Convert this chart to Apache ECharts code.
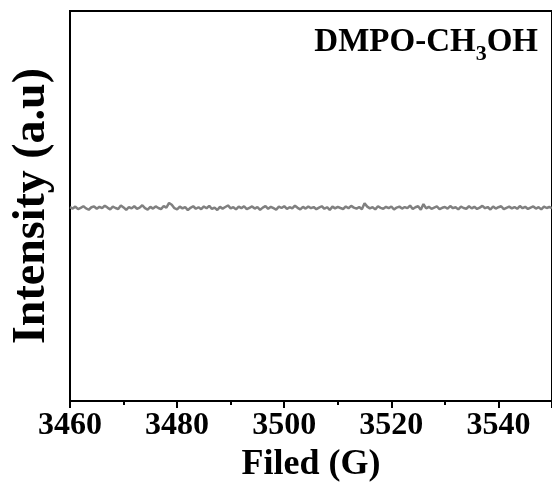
<!DOCTYPE html>
<html>
<head>
<meta charset="utf-8">
<script src="https://cdn.jsdelivr.net/npm/echarts@6/dist/echarts.min.js"></script>
<style>
  html, body { margin: 0; padding: 0; background: #fff; }
  #chart { width: 552px; height: 488px; }
</style>
</head>
<body>
<div id="chart"></div>
<script>
// magnetic field (G)
var fields = [
  3460, 3460.5, 3461, 3461.5, 3462, 3462.5, 3463, 3463.5, 3464, 3464.5,
  3465, 3465.5, 3466, 3466.5, 3467, 3467.5, 3468, 3468.5, 3469, 3469.5,
  3470, 3470.5, 3471, 3471.5, 3472, 3472.5, 3473, 3473.5, 3474, 3474.5,
  3475, 3475.5, 3476, 3476.5, 3477, 3477.5, 3478, 3478.5, 3479, 3479.5,
  3480, 3480.5, 3481, 3481.5, 3482, 3482.5, 3483, 3483.5, 3484, 3484.5,
  3485, 3485.5, 3486, 3486.5, 3487, 3487.5, 3488, 3488.5, 3489, 3489.5,
  3490, 3490.5, 3491, 3491.5, 3492, 3492.5, 3493, 3493.5, 3494, 3494.5,
  3495, 3495.5, 3496, 3496.5, 3497, 3497.5, 3498, 3498.5, 3499, 3499.5,
  3500, 3500.5, 3501, 3501.5, 3502, 3502.5, 3503, 3503.5, 3504, 3504.5,
  3505, 3505.5, 3506, 3506.5, 3507, 3507.5, 3508, 3508.5, 3509, 3509.5,
  3510, 3510.5, 3511, 3511.5, 3512, 3512.5, 3513, 3513.5, 3514, 3514.5,
  3515, 3515.5, 3516, 3516.5, 3517, 3517.5, 3518, 3518.5, 3519, 3519.5,
  3520, 3520.5, 3521, 3521.5, 3522, 3522.5, 3523, 3523.5, 3524, 3524.5,
  3525, 3525.5, 3526, 3526.5, 3527, 3527.5, 3528, 3528.5, 3529, 3529.5,
  3530, 3530.5, 3531, 3531.5, 3532, 3532.5, 3533, 3533.5, 3534, 3534.5,
  3535, 3535.5, 3536, 3536.5, 3537, 3537.5, 3538, 3538.5, 3539, 3539.5,
  3540, 3540.5, 3541, 3541.5, 3542, 3542.5, 3543, 3543.5, 3544, 3544.5,
  3545, 3545.5, 3546, 3546.5, 3547, 3547.5, 3548, 3548.5, 3549, 3549.5,
  3550
];
// EPR intensity (a.u), flat noisy baseline
var intensity = [
  -0.6, -1.3, -0.3, -1.6, -0.9, -0.1, -1.2, -1.9, -0.6, -0.2,
  -1.4, -0.4, -1.1, 0.2, -0.8, -1.7, -0.3, -1.0, -1.5, 0.3,
  -0.7, -2.0, -0.5, -1.2, -0.1, -1.4, -0.8, 0.4, -1.1, -1.8,
  -0.4, -1.3, -0.2, -1.0, -1.6, 0.0, -0.8, 1.6, 0.7, -1.1,
  -1.7, -0.3, -1.2, -0.5, -2.1, -0.9, -0.1, -1.4, -0.6, -1.6,
  -0.2, -1.1, 0.1, -1.5, -0.8, -2.0, -0.4, -1.3, -0.5, 0.3,
  -1.2, -0.6, -1.7, -0.3, -1.1, -0.1, -1.6, -0.9, -0.2, -1.3,
  -0.5, -1.9, -0.8, 0.0, -1.4, -0.4, -1.1, -1.8, -0.3, -1.0,
  -0.1, -1.5, -0.6, -1.2, 0.2, -0.9, -1.7, -0.4, -1.3, -0.2,
  -1.1, -0.5, -1.6, -0.8, -0.1, -1.4, -0.6, -2.0, -0.3, -1.2,
  -0.4, -1.0, -1.5, -0.2, -1.1, 0.1, -0.8, -1.3, -0.5, -1.6,
  1.4, -0.3, -1.2, -0.6, -1.7, -0.1, -0.9, -1.4, -0.4, -1.1,
  -0.2, -1.8, -0.8, -0.3, -1.3, -0.5, -1.1, 0.2, -1.5, -0.6,
  -0.1, -1.9, 1.0, -1.2, -0.4, -1.4, -0.8, -0.2, -1.6, -0.9,
  -0.5, -1.3, 0.0, -1.1, -0.6, -1.7, -0.3, -1.0, -1.4, -0.1,
  -1.2, -0.4, -1.5, -0.8, 0.1, -1.1, -0.5, -1.8, -0.2, -1.3,
  -0.6, -0.1, -1.6, -0.9, -0.3, -1.2, -0.5, -1.4, 0.0, -1.1,
  -0.4, -1.5, -0.8, -0.2, -1.3, -0.6, -1.7, -0.3, -1.0, -0.5,
  -1.0
];

var serif = '"Liberation Serif", "Times New Roman", serif';

var myChart = echarts.init(document.getElementById('chart'));
var points = fields.map(function (f, i) {
  return [f, intensity[i]];
});
var option = {
  animation: false,
  backgroundColor: '#fff',
  grid: {
    left: 70,
    right: -4,
    top: 11,
    bottom: 86,
    show: true,
    borderColor: '#000',
    borderWidth: 2
  },
  graphic: [
    {
      type: 'text',
      right: 14,
      top: 26,
      style: {
        text: '{m|DMPO-CH}{s|3}{m|OH}',
        rich: {
          m: {
            fontFamily: serif,
            fontWeight: 'bold',
            fontSize: 33,
            lineHeight: 33,
            verticalAlign: 'top',
            fill: '#000'
          },
          s: {
            fontFamily: serif,
            fontWeight: 'bold',
            fontSize: 22,
            lineHeight: 22,
            verticalAlign: 'top',
            padding: [17, 0, 0, 0],
            fill: '#000'
          }
        }
      }
    }
  ],
  xAxis: {
    type: 'value',
    min: 3460,
    max: 3550,
    interval: 20,
    name: 'Filed (G)',
    nameLocation: 'middle',
    nameGap: 45,
    nameTextStyle: {
      fontFamily: serif,
      fontWeight: 'bold',
      fontSize: 36,
      color: '#000'
    },
    axisLine: { show: true, onZero: false, lineStyle: { color: '#000', width: 2 } },
    axisTick: { show: true, inside: false, length: 7, lineStyle: { color: '#000', width: 2 } },
    minorTick: { show: true, splitNumber: 2, length: 4, lineStyle: { color: '#000', width: 2 } },
    axisLabel: {
      margin: 9,
      fontFamily: serif,
      fontWeight: 'bold',
      fontSize: 32,
      color: '#000',
      showMaxLabel: false,
      formatter: function (v) { return String(v); }
    },
    splitLine: { show: false }
  },
  yAxis: {
    type: 'value',
    min: -100,
    max: 100,
    name: 'Intensity (a.u)',
    nameLocation: 'middle',
    nameRotate: 90,
    nameGap: 15,
    nameTextStyle: {
      fontFamily: serif,
      fontWeight: 'bold',
      fontSize: 46,
      color: '#000'
    },
    axisLine: { show: true, onZero: false, lineStyle: { color: '#000', width: 2 } },
    axisTick: { show: false },
    axisLabel: { show: false },
    splitLine: { show: false }
  },
  series: [
    {
      type: 'line',
      data: points,
      showSymbol: false,
      symbol: 'none',
      lineStyle: { color: '#808080', width: 2.5 }
    }
  ]
};
myChart.setOption(option);
</script>
</body>
</html>
